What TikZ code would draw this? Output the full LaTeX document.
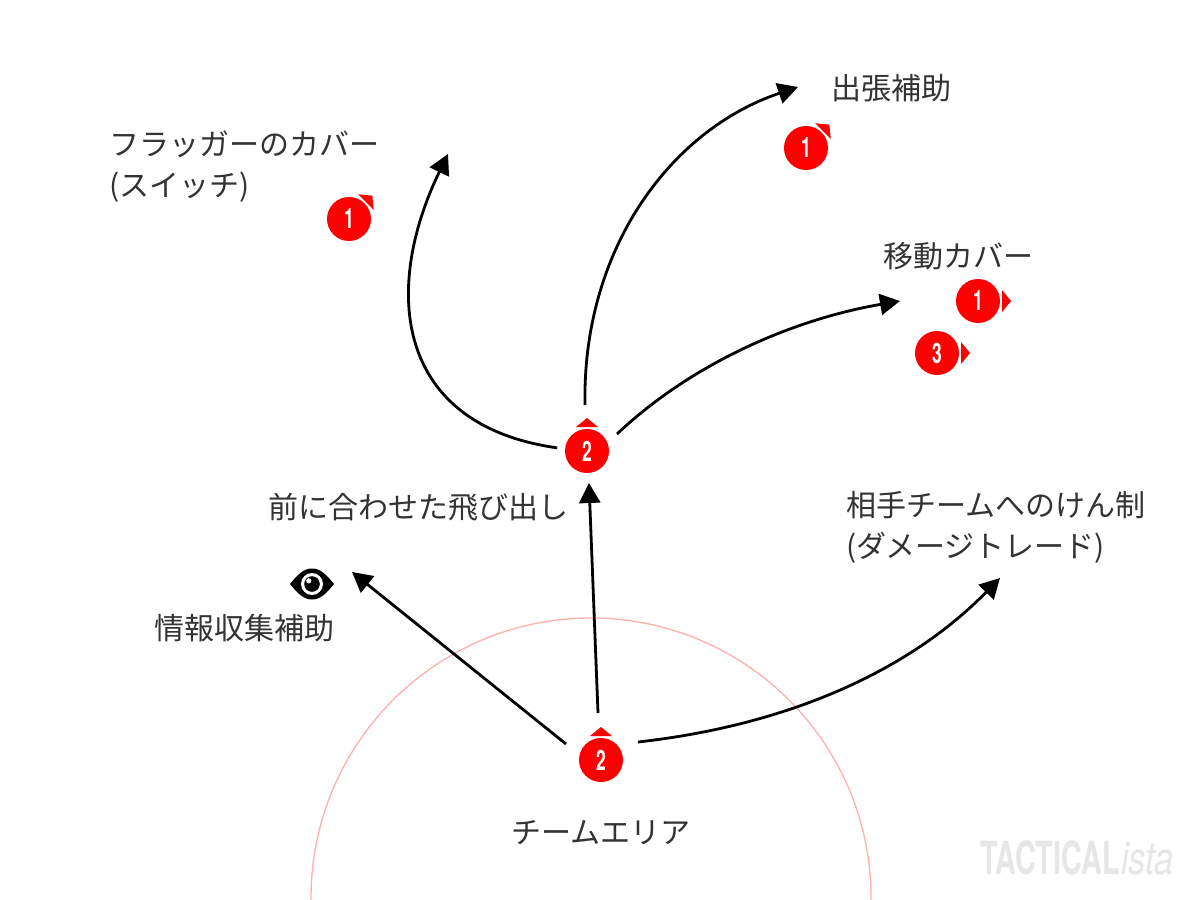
\documentclass[tikz,border=0pt]{standalone}
\usepackage{fontspec}
\usepackage{graphicx}
\setmainfont{Noto Sans CJK JP}
\newfontfamily\numfont{TeX Gyre Heros}
\usetikzlibrary{arrows.meta}
\definecolor{badgered}{HTML}{FF0000}
\definecolor{labelgrey}{HTML}{333333}
\definecolor{markgrey}{HTML}{E6E6E6}
\definecolor{zonepink}{HTML}{FFB0B0}
\tikzset{
  x=0.03cm,y=-0.03cm,
  badge/.style={circle,fill=badgered,minimum size=1.32cm,inner sep=0pt,outer sep=0pt,text=white,font=\numfont\bfseries\fontsize{24pt}{24pt}\selectfont},
  marker/.style={fill=badgered,draw=none},
  label/.style={text=labelgrey,inner sep=0pt,anchor=west,align=left,font=\fontsize{25.6pt}{35pt}\selectfont},
  run/.style={draw=black,line width=0.084cm,-{Triangle[length=0.6cm,width=0.63cm]}},
  zone/.style={draw=zonepink,line width=0.04cm},
}
\newcommand{\badgeat}[5]{%
  \node[badge] (#1) at (#2,#3) {\scalebox{0.62}[1]{#4}};
  \fill[marker,shift={(#2,#3)},rotate=#5] (-11,-24) -- (11,-24) -- (0,-33) -- cycle;
  \node[circle,minimum size=1.8cm,inner sep=0pt,outer sep=0pt] (#1r) at (#2,#3) {};
}
\begin{document}
\begin{tikzpicture}
\path[use as bounding box,fill=white] (0,0) rectangle (1200,900);
\begin{scope}
  \clip (0,0) rectangle (1200,900);
  \draw[zone] (591,898) circle (280);
\end{scope}
\badgeat{cA}{349}{219}{1}{-45}
\badgeat{cB}{806}{148}{1}{-45}
\badgeat{cC}{978}{301}{1}{-90}
\badgeat{cD}{937}{353}{3}{-90}
\badgeat{mid}{587}{451}{2}{0}
\badgeat{low}{601}{760}{2}{0}
\node[label] (t1) at (109,167) {フラッガーのカバー\\(スイッチ)};
\node[label] (t2) at (831,88) {出張補助};
\node[label] (t3) at (883,256) {移動カバー};
\node[label] (t4) at (268,507) {前に合わせた飛び出し};
\node[label] (t5) at (846,527) {相手チームへのけん制\\(ダメージトレード)};
\node[label] (t6) at (154,628) {情報収集補助};
\node[label] (t7) at (511,833) {チームエリア};
\node[anchor=west,inner sep=0pt,text=markgrey,font=\numfont\bfseries\fontsize{39pt}{39pt}\selectfont] (mark) at (980,858) {\scalebox{0.63}[1]{TACTICAL}\hspace{1pt}\scalebox{0.76}[1]{\mdseries\itshape ista}};
\coordinate (eA) at (448,154);
\coordinate (eB) at (798,87);
\coordinate (eC) at (900,301);
\coordinate (eD) at (589,483);
\coordinate (eE) at (352,572);
\coordinate (eF) at (1000,578);
\coordinate (sB) at (585,405);
\coordinate (sC) at (617,434);
\coordinate (sD) at (598,713);
\coordinate (sE) at (566,744);
\coordinate (sF) at (638,742);
\draw[run] (midr.174) .. controls (395,425) and (382,290) .. (eA);
\draw[run] (sB) .. controls (582,250) and (670,130) .. (eB);
\draw[run] (sC) .. controls (690,365) and (790,320) .. (eC);
\draw[run] (sD) -- (eD);
\draw[run] (sE) -- (eE);
\draw[run] (sF) .. controls (790,725) and (910,670) .. (eF);
\begin{scope}[shift={(312,584)}]
  \fill[black] (-22,0) .. controls (-14,-10) and (-8,-15.5) .. (0,-15.5) .. controls (8,-15.5) and (14,-10) .. (22,0) .. controls (14,10) and (8,15.5) .. (0,15.5) .. controls (-8,15.5) and (-14,10) .. (-22,0) -- cycle;
  \fill[white] (0,0) circle (11);
  \fill[black] (0,0) circle (7.8);
  \fill[white] (-3.2,-3.2) circle (2.6);
\end{scope}
\end{tikzpicture}
\end{document}
